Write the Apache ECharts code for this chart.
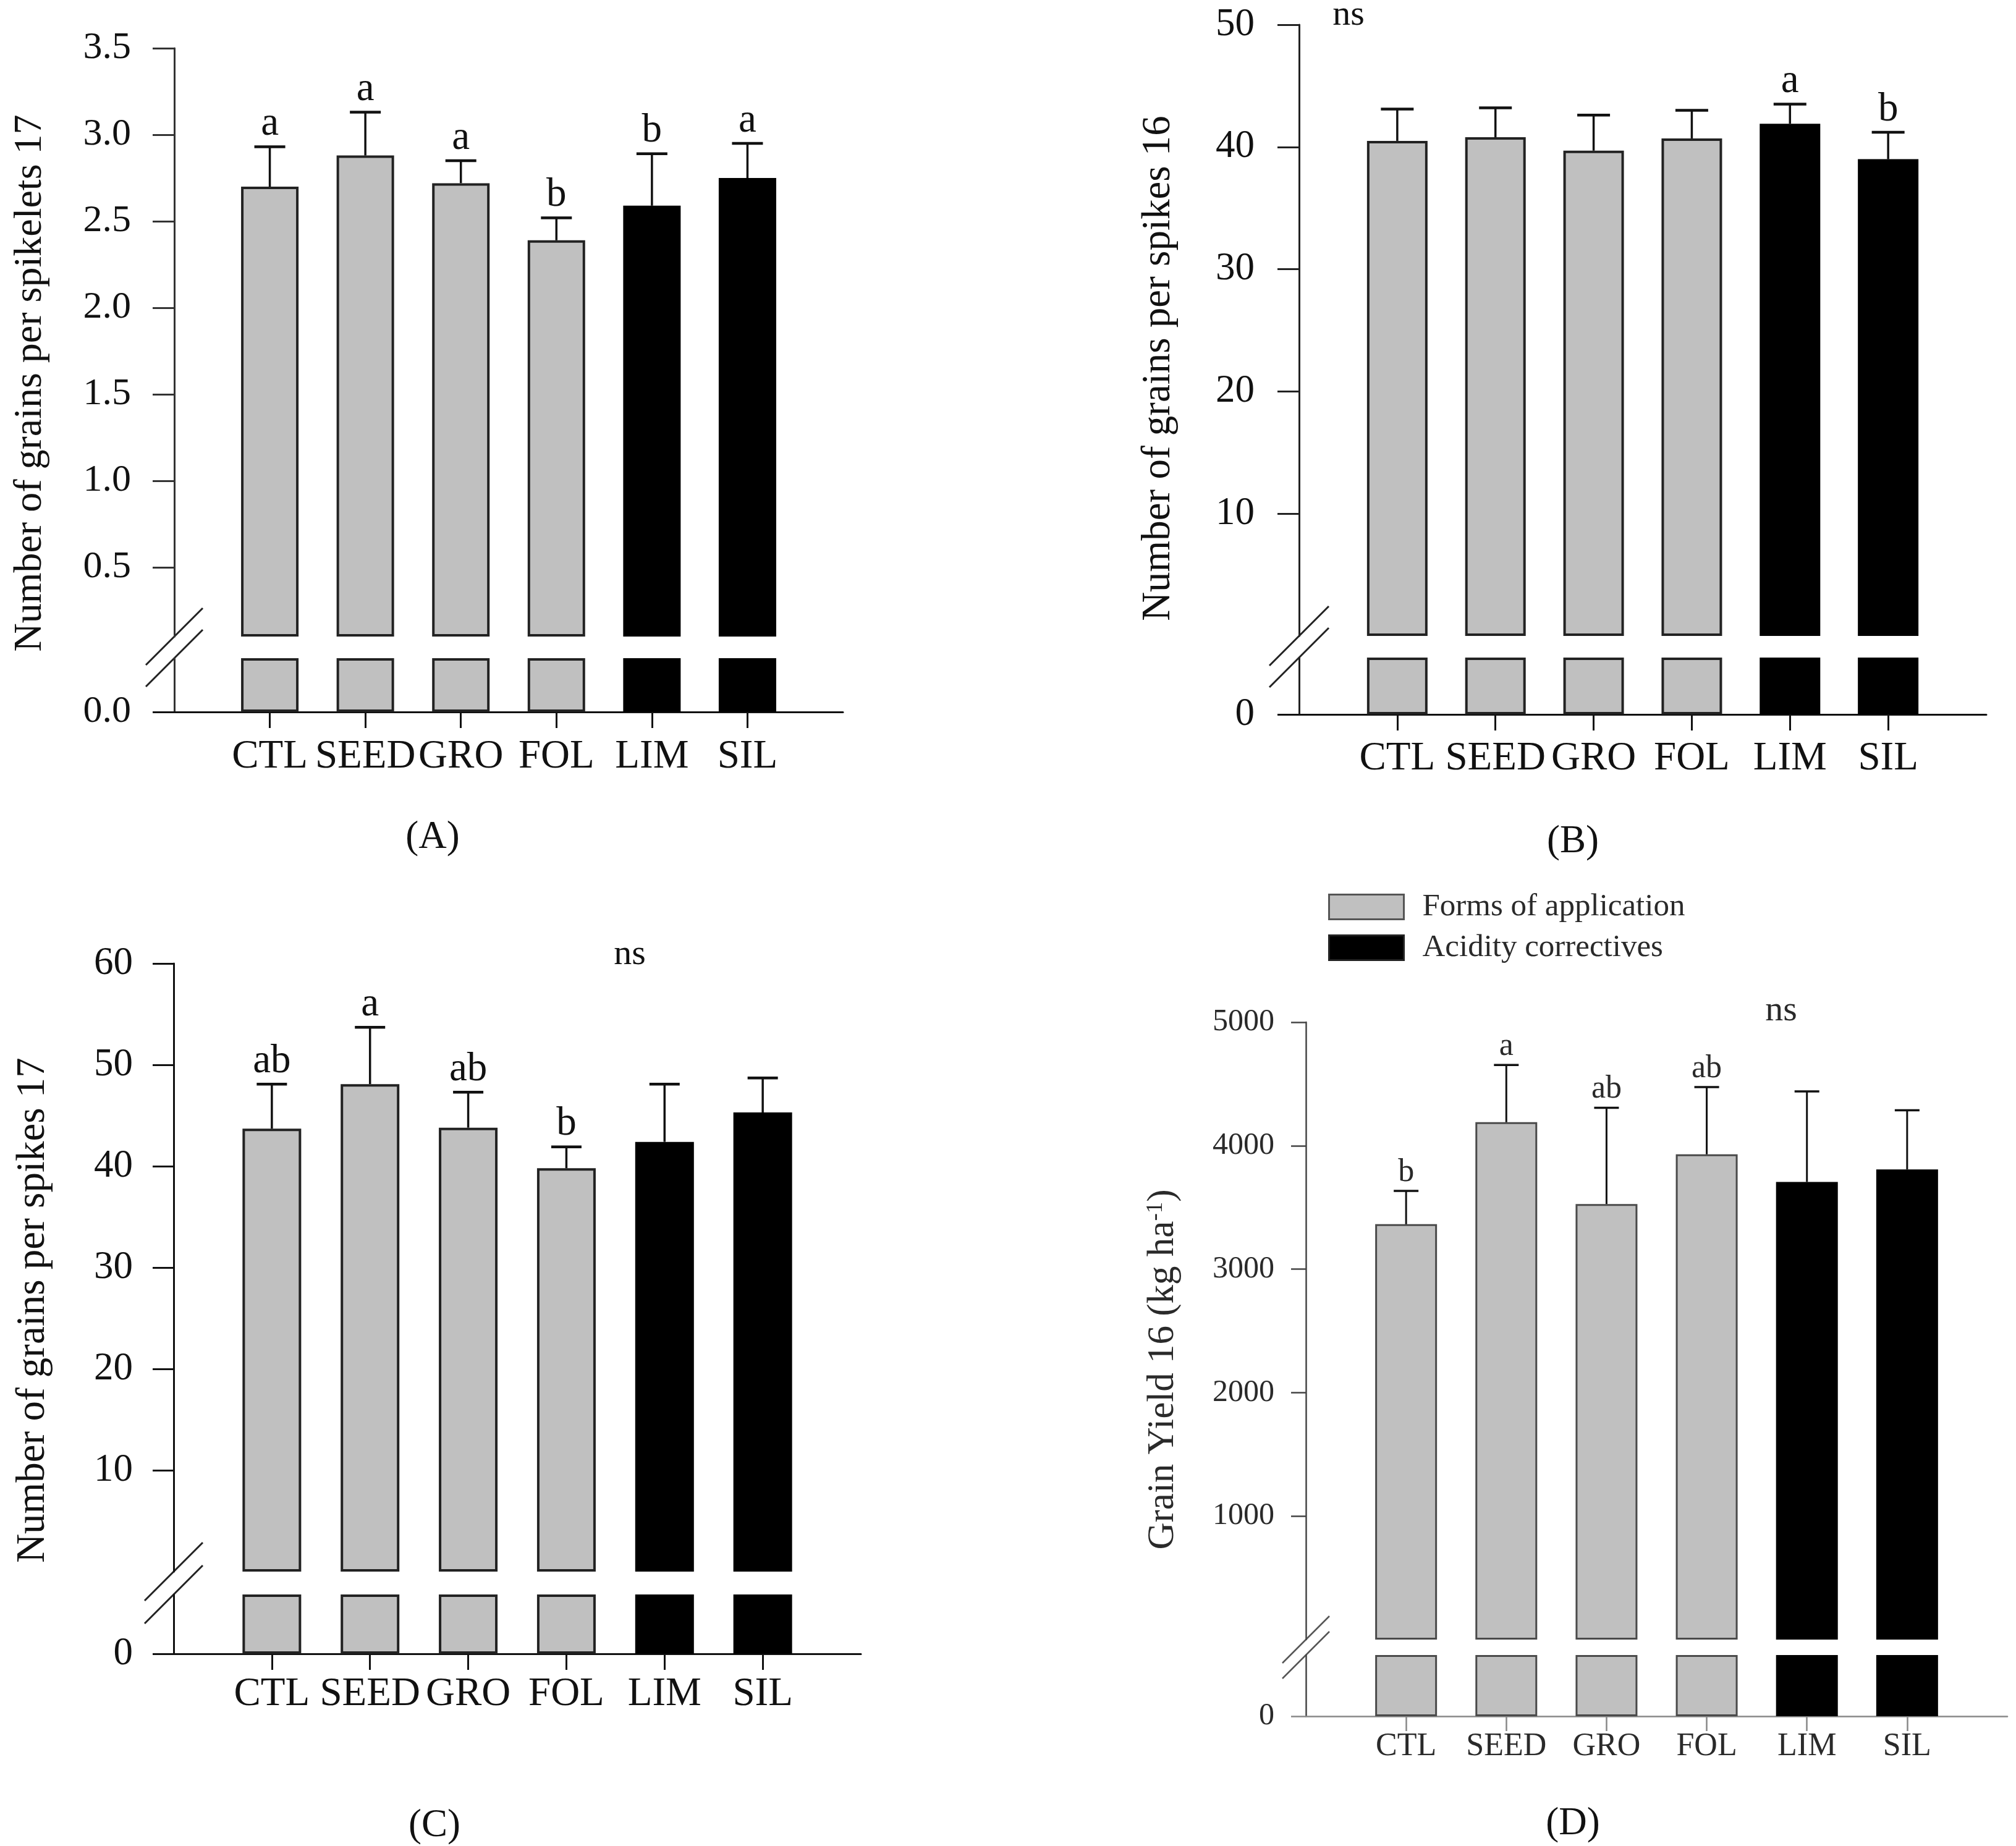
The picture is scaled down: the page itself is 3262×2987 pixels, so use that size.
<!DOCTYPE html>
<html>
<head>
<meta charset="utf-8">
<title>Grains per spikelet, grains per spike and grain yield</title>
<script src="https://cdn.jsdelivr.net/npm/echarts@6/dist/echarts.min.js"></script>
<style>
html, body { margin: 0; padding: 0; background: #fff; }
#chart { width: 3262px; height: 2987px; }
</style>
</head>
<body>
<div id="chart"></div>
<script>
// treatments shared by the four panels
var categories = ['CTL', 'SEED', 'GRO', 'FOL', 'LIM', 'SIL'];
var groupNames = ['Forms of application', 'Acidity correctives'];
var groupOf = [0, 0, 0, 0, 1, 1];

// (A) grains per spikelet 2017
var meanA = [2.70, 2.88, 2.72, 2.39, 2.59, 2.75];
var errA = [0.23, 0.25, 0.13, 0.13, 0.30, 0.20];
var lettersA = ['a', 'a', 'a', 'b', 'b', 'a'];
var ticksA = [0.5, 1.0, 1.5, 2.0, 2.5, 3.0, 3.5];

// (B) grains per spike 2016
var meanB = [40.5, 40.8, 39.7, 40.7, 41.9, 39.0];
var errB = [2.6, 2.4, 2.9, 2.3, 1.6, 2.2];
var lettersB = ['', '', '', '', 'a', 'b'];
var ticksB = [10, 20, 30, 40, 50];

// (C) grains per spike 2017
var meanC = [43.7, 48.1, 43.8, 39.8, 42.4, 45.3];
var errC = [4.4, 5.6, 3.5, 2.1, 5.7, 3.4];
var lettersC = ['ab', 'a', 'ab', 'b', '', ''];
var ticksC = [10, 20, 30, 40, 50, 60];

// (D) grain yield 2016, kg/ha
var meanD = [3364, 4190, 3527, 3930, 3706, 3808];
var errD = [270, 464, 780, 545, 734, 479];
var lettersD = ['b', 'a', 'ab', 'ab', '', ''];
var ticksD = [1000, 2000, 3000, 4000, 5000];

var FONT = '"Liberation Serif", "Times New Roman", serif';

// layout + look of each panel (upper part and the small stub under the axis break)
var panels = [
    {mean: meanA, err: errA, letters: lettersA, ticks: ticksA, digits: 1,
     min: 0.1, max: 3.5, stub: 0.3,
     left: 282, width: 1082, top: 78, upperH: 952, lowerTop: 1065, lowerH: 87,
     barWidth: 93, capW: 50, font: 62, catFont: 65, letterFont: 65, tickLen: 35, labelMargin: 70, catMargin: 40, catTick: 26,
     text: '#111', yLine: '#333', xLine: '#111', lineW: 3, border: '#222', borderW: 4, errW: 3.5, capLW: 4.5,
     title: 'Number of grains per spikelets 17', titleX: 49, titleY: 620, titleFont: 64,
     tag: '(A)', tagX: 700, tagY: 1355, ns: null, breakHalf: 46, breakColor: '#222', breakW: 3},
    {mean: meanB, err: errB, letters: lettersB, ticks: ticksB, digits: 0,
     min: 0, max: 50, stub: 5,
     left: 2102, width: 1112, top: 40, upperH: 989, lowerTop: 1064, lowerH: 92,
     barWidth: 98, capW: 53, font: 63, catFont: 65, letterFont: 65, tickLen: 35, labelMargin: 72, catMargin: 39, catTick: 26,
     text: '#111', yLine: '#222', xLine: '#111', lineW: 3, border: '#222', borderW: 4, errW: 3.5, capLW: 4.5,
     title: 'Number of grains per spikes 16', titleX: 1875, titleY: 596, titleFont: 65,
     tag: '(B)', tagX: 2545, tagY: 1362, ns: [2182, 25], breakHalf: 48, breakColor: '#222', breakW: 3},
    {mean: meanC, err: errC, letters: lettersC, ticks: ticksC, digits: 0,
     min: 0, max: 60, stub: 5,
     left: 281, width: 1112, top: 1559, upperH: 984, lowerTop: 2580, lowerH: 96,
     barWidth: 95, capW: 49, font: 63, catFont: 65, letterFont: 65, tickLen: 34, labelMargin: 66, catMargin: 33, catTick: 26,
     text: '#111', yLine: '#111', xLine: '#111', lineW: 3, border: '#222', borderW: 4, errW: 3.5, capLW: 4.5,
     title: 'Number of grains per spikes 17', titleX: 54, titleY: 2120, titleFont: 65,
     tag: '(C)', tagX: 703, tagY: 2954, ns: [1019, 1545], breakHalf: 47, breakColor: '#222', breakW: 3},
    {mean: meanD, err: errD, letters: lettersD, ticks: ticksD, digits: 0,
     min: 0, max: 5000, stub: 500,
     left: 2113, width: 1135, top: 1654, upperH: 999, lowerTop: 2678, lowerH: 99,
     barWidth: 100, capW: 40, font: 50, catFont: 52, letterFont: 52, tickLen: 24, labelMargin: 51, catMargin: 23, catTick: 24,
     text: '#2a2a2a', yLine: '#444', xLine: '#888', lineW: 2.5, border: '#4a4a4a', borderW: 3, errW: 3, capLW: 3.5,
     title: 'Grain Yield 16 (kg ha{sup|-1})', titleX: 1882, titleY: 2216, titleFont: 61,
     tag: '(D)', tagX: 2545, tagY: 2951, ns: [2882, 1636], breakHalf: 38, breakColor: '#555', breakW: 2.5}
];

var fills = ['#c0c0c0', '#000000'];
var axisCats = [''].concat(categories, ['']);
function padded(arr) { return [null].concat(arr, [null]); }
function isReal(i) { return i > 0 && i <= categories.length; }

var option = {
    animation: false,
    backgroundColor: '#ffffff',
    grid: [], xAxis: [], yAxis: [], series: [], graphic: [],
    legend: {
        left: 2144, top: 1437, orient: 'vertical', icon: 'rect',
        itemWidth: 121, itemHeight: 40, itemGap: 15, selectedMode: false,
        textStyle: {fontSize: 51, fontFamily: FONT, color: '#2a2a2a', padding: [0, 0, 0, 25]},
        data: [
            {name: groupNames[0], itemStyle: {color: fills[0], borderColor: '#555', borderWidth: 3}},
            {name: groupNames[1], itemStyle: {color: fills[1], borderColor: '#222', borderWidth: 3}}
        ]
    }
};

panels.forEach(function (p) {
    var up = option.grid.length, lo = up + 1;
    var fmt = function (v) { return Number(v).toFixed(p.digits); };
    var labelStyle = {fontSize: p.font, fontFamily: FONT, color: p.text};

    option.grid.push({left: p.left, top: p.top, width: p.width, height: p.upperH, outerBoundsMode: 'none'});
    option.grid.push({left: p.left, top: p.lowerTop, width: p.width, height: p.lowerH, outerBoundsMode: 'none'});

    option.xAxis.push({gridIndex: up, type: 'category', data: axisCats, boundaryGap: false, show: false});
    option.xAxis.push({
        gridIndex: lo, type: 'category', data: axisCats, boundaryGap: false,
        axisLine: {show: true, lineStyle: {color: p.xLine, width: p.lineW}},
        axisTick: {show: true, interval: isReal, length: p.catTick, lineStyle: {color: p.xLine, width: p.lineW}},
        axisLabel: {interval: isReal, margin: p.catMargin, fontSize: p.catFont, fontFamily: FONT, color: p.text},
        splitLine: {show: false}
    });

    option.yAxis.push({
        gridIndex: up, type: 'value', min: p.min, max: p.max, startValue: p.min,
        axisLine: {show: true, lineStyle: {color: p.yLine, width: p.lineW}},
        axisTick: {show: true, length: p.tickLen, customValues: p.ticks, lineStyle: {color: p.yLine, width: p.lineW}},
        axisLabel: Object.assign({customValues: p.ticks, formatter: fmt, margin: p.labelMargin}, labelStyle),
        splitLine: {show: false}
    });
    option.yAxis.push({
        gridIndex: lo, type: 'value', min: 0, max: p.stub,
        axisLine: {show: true, lineStyle: {color: p.yLine, width: p.lineW}},
        axisTick: {show: true, length: p.tickLen, customValues: [0], lineStyle: {color: p.xLine, width: p.lineW}},
        axisLabel: Object.assign({customValues: [0], formatter: fmt, margin: p.labelMargin}, labelStyle),
        splitLine: {show: false}
    });

    // bars: one series per treatment group, overlaid on the same slots
    [0, 1].forEach(function (g) {
        var style = {color: fills[g], borderColor: g === 0 ? p.border : '#000', borderWidth: p.borderW};
        var upper = p.mean.map(function (v, i) { return groupOf[i] === g ? v : null; });
        var lower = p.mean.map(function (v, i) { return groupOf[i] === g ? Math.min(v, p.stub) : null; });
        option.series.push({
            type: 'bar', name: groupNames[g], xAxisIndex: up, yAxisIndex: up,
            data: padded(upper), barWidth: p.barWidth, barGap: '-100%', clip: false,
            itemStyle: style, silent: true
        });
        option.series.push({
            type: 'bar', name: groupNames[g], xAxisIndex: lo, yAxisIndex: lo,
            data: padded(lower), barWidth: p.barWidth, barGap: '-100%', clip: false,
            itemStyle: style, silent: true
        });
    });

    // error bars (mean + SD) with the letters of the mean comparison
    option.series.push({
        type: 'custom', xAxisIndex: up, yAxisIndex: up, z: 5, silent: true,
        data: categories.map(function (c, i) { return [i + 1, p.mean[i], p.err[i]]; }),
        renderItem: function (params, api) {
            var base = api.coord([api.value(0), api.value(1)]);
            var tip = api.coord([api.value(0), api.value(1) + api.value(2)]);
            var half = p.capW / 2;
            return {
                type: 'group',
                children: [
                    {type: 'line', shape: {x1: base[0], y1: base[1], x2: tip[0], y2: tip[1]},
                     style: {stroke: '#111', lineWidth: p.errW}},
                    {type: 'line', shape: {x1: tip[0] - half, y1: tip[1], x2: tip[0] + half, y2: tip[1]},
                     style: {stroke: '#111', lineWidth: p.capLW}},
                    {type: 'text', style: {text: p.letters[params.dataIndex], x: tip[0], y: tip[1] - 4,
                     align: 'center', verticalAlign: 'bottom', fontSize: p.letterFont, fontFamily: FONT, fill: p.text}}
                ]
            };
        }
    });

    // axis title, panel tag, "ns" note
    option.graphic.push({
        type: 'text', x: p.titleX, y: p.titleY, rotation: Math.PI / 2,
        style: {text: p.title, align: 'center', verticalAlign: 'middle', fontSize: p.titleFont, fontFamily: FONT, fill: p.text,
                rich: {sup: {fontSize: Math.round(p.titleFont * 0.6), fontFamily: FONT, fill: p.text, verticalAlign: 'top'}}}
    });
    option.graphic.push({
        type: 'text', x: p.tagX, y: p.tagY,
        style: {text: p.tag, align: 'center', verticalAlign: 'middle', fontSize: 63, fontFamily: FONT, fill: '#111'}
    });
    if (p.ns) {
        option.graphic.push({
            type: 'text', x: p.ns[0], y: p.ns[1],
            style: {text: 'ns', align: 'center', verticalAlign: 'middle', fontSize: 58, fontFamily: FONT, fill: p.text}
        });
    }

    // "//" marks at both ends of the axis break
    var yBreak = [p.top + p.upperH, p.lowerTop];
    yBreak.forEach(function (yb) {
        option.graphic.push({
            type: 'line',
            shape: {x1: p.left - p.breakHalf, y1: yb + p.breakHalf, x2: p.left + p.breakHalf, y2: yb - p.breakHalf},
            style: {stroke: p.breakColor, lineWidth: p.breakW}
        });
    });
});

var myChart = echarts.init(document.getElementById('chart'));
myChart.setOption(option);
window.addEventListener('resize', function () {
    myChart.resize();
});
</script>
</body>
</html>
